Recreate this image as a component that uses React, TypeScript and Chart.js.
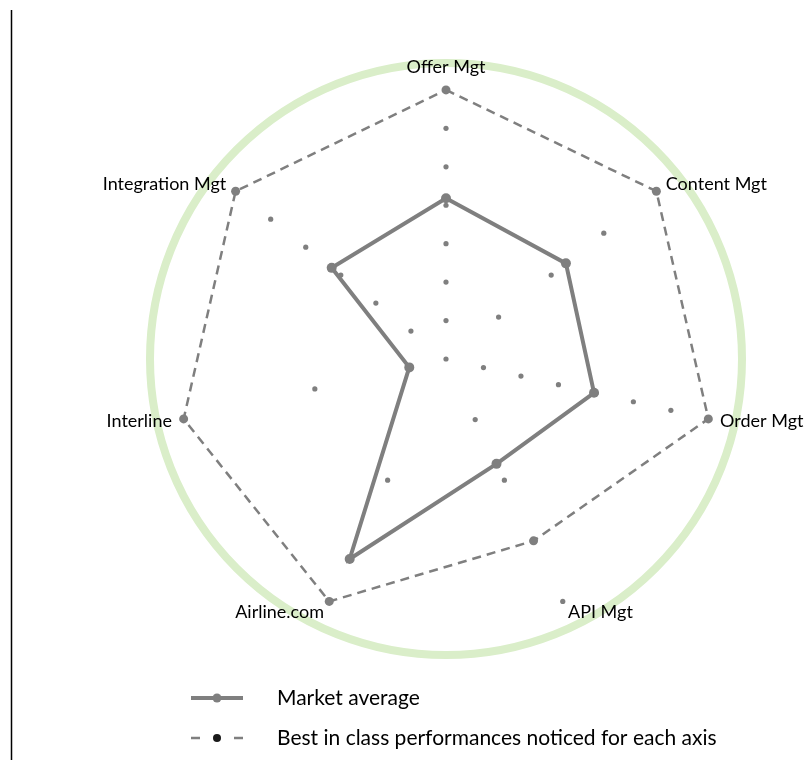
import React, { useEffect, useRef } from 'react';
import { Chart, registerables } from 'chart.js';

Chart.register(...registerables);

// ---- data ----
const axisLabels = ['Offer Mgt', 'Content Mgt', 'Order Mgt', 'API Mgt', 'Airline.com', 'Interline', 'Integration Mgt'];
// each axis has its own scale (maximum = outer end of the axis)
const axisMax = [7, 4, 7, 4, 2, 2, 6];
const marketAverage = [4.18, 2.28, 3.95, 1.73, 1.65, 0.28, 3.26];
const bestInClass = [7, 4, 7, 3, 2, 2, 6];
// graduation marks drawn as small dots along each axis
const graduationSteps = [0, 1, 2, 3, 4, 5, 6, 7];
const legendLabels = ['Market average', 'Best in class performances noticed for each axis'];

// ---- styles ----
const GRAY = '#7f7f7f';
const GREEN = '#daeec9';
const FONT = 'Lato, "Open Sans", "Liberation Sans", sans-serif';
const SCALE_MAX = 1.1;

const normalise = (vals: number[]) => vals.map((v, i) => v / axisMax[i]);

const graduationData = (k: number) =>
  axisMax.map((m, i) => (k === 0 ? (i === 0 ? 0 : null) : k <= m ? k / m : null));

const axisLabelPlugin = {
  id: 'axisLabelPlugin',
  afterDatasetsDraw(chart: any) {
    const scale = chart.scales.r;
    const ctx = chart.ctx;
    ctx.save();
    ctx.font = `18px ${FONT}`;
    ctx.fillStyle = '#000';
    ctx.textBaseline = 'middle';
    const base = scale.getDistanceFromCenterForValue(1);
    axisLabels.forEach((label, i) => {
      const p0 = scale.getPointPosition(i, base);
      const dx = p0.x - scale.xCenter;
      const isTop = Math.abs(dx) < 1;
      const p = scale.getPointPosition(i, base + (isTop ? 23 : 12));
      ctx.textAlign = isTop ? 'center' : dx > 0 ? 'left' : 'right';
      ctx.fillText(label, p.x, p.y);
    });
    ctx.restore();
  },
};

const legendPlugin = {
  id: 'customLegend',
  afterDraw(chart: any) {
    const ctx = chart.ctx;
    const x0 = 191;
    const y0 = 698;
    const rowH = 40;
    const symW = 52;
    const textX = 277;
    ctx.save();
    // left page rule
    ctx.strokeStyle = '#000';
    ctx.lineWidth = 1.5;
    ctx.beginPath();
    ctx.moveTo(11.5, 10);
    ctx.lineTo(11.5, 760);
    ctx.stroke();

    // Market average symbol
    ctx.strokeStyle = GRAY;
    ctx.lineWidth = 4;
    ctx.beginPath();
    ctx.moveTo(x0, y0);
    ctx.lineTo(x0 + symW, y0);
    ctx.stroke();
    ctx.fillStyle = GRAY;
    ctx.beginPath();
    ctx.arc(x0 + symW / 2, y0, 4.5, 0, Math.PI * 2);
    ctx.fill();

    // Best in class symbol
    const y1 = y0 + rowH;
    ctx.lineWidth = 2.5;
    ctx.beginPath();
    ctx.moveTo(x0, y1);
    ctx.lineTo(x0 + 9, y1);
    ctx.moveTo(x0 + symW - 9, y1);
    ctx.lineTo(x0 + symW, y1);
    ctx.stroke();
    ctx.fillStyle = '#1a1a1a';
    ctx.beginPath();
    ctx.arc(x0 + symW / 2, y1, 4, 0, Math.PI * 2);
    ctx.fill();

    ctx.fillStyle = '#000';
    ctx.font = `21px ${FONT}`;
    ctx.textAlign = 'left';
    ctx.textBaseline = 'middle';
    ctx.fillText(legendLabels[0], textX, y0);
    ctx.fillText(legendLabels[1], textX, y1);
    ctx.restore();
  },
};

export default function App() {
  const ref = useRef<HTMLCanvasElement>(null);

  useEffect(() => {
    if (!ref.current) return;
    const datasets: any[] = [
      {
        label: legendLabels[0],
        data: normalise(marketAverage),
        borderColor: GRAY,
        backgroundColor: GRAY,
        borderWidth: 4,
        pointRadius: 5,
        pointBorderWidth: 0,
        pointBackgroundColor: GRAY,
        fill: false,
        order: 0,
      },
      {
        label: legendLabels[1],
        data: normalise(bestInClass),
        borderColor: GRAY,
        backgroundColor: GRAY,
        borderWidth: 2.5,
        borderDash: [9, 6],
        pointRadius: 4.5,
        pointBorderWidth: 0,
        pointBackgroundColor: GRAY,
        fill: false,
        order: 1,
      },
      ...graduationSteps.map((k) => ({
        label: 'step ' + k,
        data: graduationData(k),
        showLine: false,
        pointRadius: 2.6,
        pointBorderWidth: 0,
        pointBackgroundColor: GRAY,
        borderColor: GRAY,
        fill: false,
        order: 2,
      })),
    ];

    const chart = new Chart(ref.current, {
      type: 'radar',
      data: { labels: axisLabels, datasets },
      options: {
        responsive: false,
        animation: false,
        devicePixelRatio: 1,
        layout: { padding: { left: 150, right: 66, top: 63, bottom: 105 } },
        plugins: { legend: { display: false }, tooltip: { enabled: false } },
        elements: { line: { tension: 0 } },
        scales: {
          r: {
            min: 0,
            max: SCALE_MAX,
            ticks: { display: false },
            angleLines: { display: false },
            pointLabels: { display: false },
            grid: { circular: true, color: GREEN, lineWidth: 8 },
            afterBuildTicks: (scale: any) => {
              scale.ticks = [{ value: 0 }, { value: SCALE_MAX }];
            },
          },
        },
      } as any,
      plugins: [axisLabelPlugin, legendPlugin],
    });
    return () => chart.destroy();
  }, []);

  return (
    <>
      <style>{'body{margin:0;overflow:hidden;background:#fff}'}</style>
      <canvas ref={ref} width={808} height={760} style={{ display: 'block' }} />
    </>
  );
}
